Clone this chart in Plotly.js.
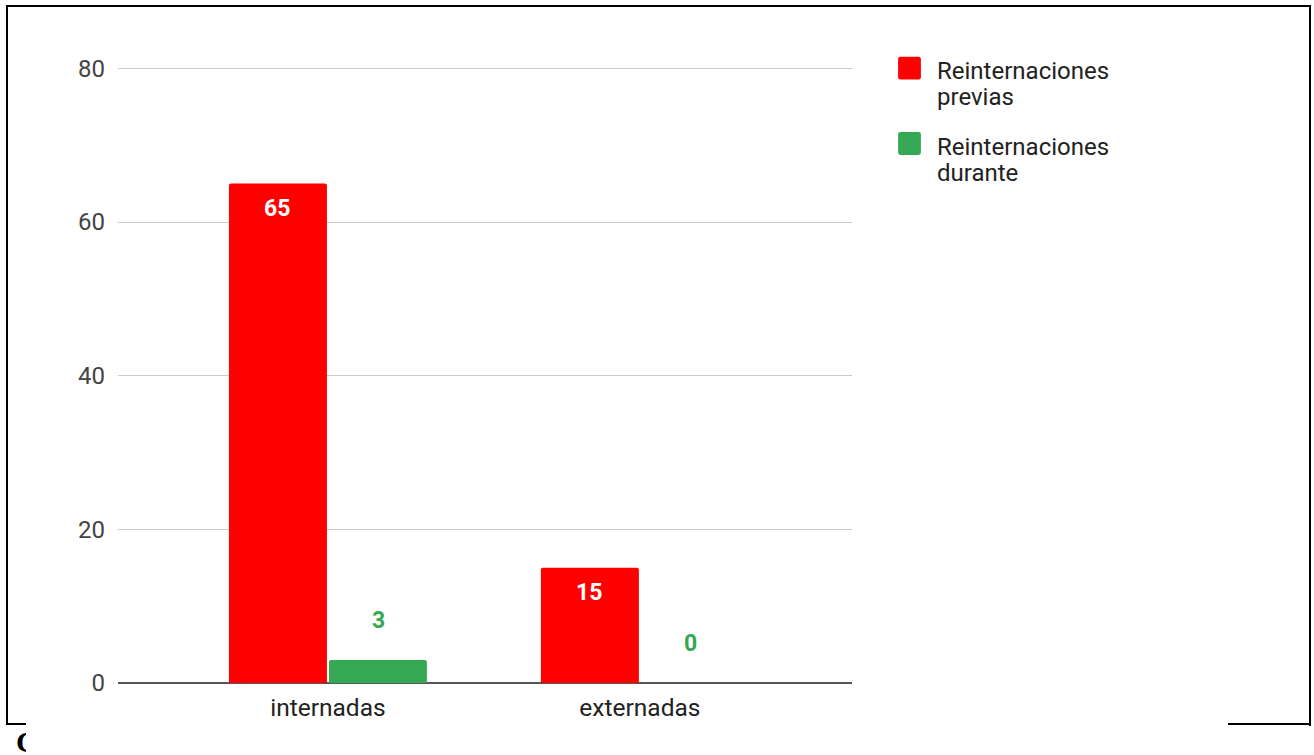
<!DOCTYPE html>
<html>
<head>
<meta charset="utf-8">
<script src="https://cdn.plot.ly/plotly-3.0.1.min.js"></script>
<style>
  html, body { margin: 0; padding: 0; width: 1314px; height: 755px; overflow: hidden; background: #fff; }
  #chart { position: absolute; left: 0; top: 0; width: 1314px; height: 755px; }
  .frame { position: absolute; background: #000; }
  #cover { position: absolute; left: 26px; top: 716px; width: 1202px; height: 39px; background: #fff; }
  #capC { position: absolute; left: 16px; top: 727px; font-family: "Liberation Serif", serif; font-weight: bold; font-size: 30px; line-height: 30px; color: #000; }
  .legend .legendpoints path { transform: translate(12.5px, -2px) scale(1.9); }
</style>
</head>
<body>
<div id="chart"></div>
<div id="capC">C</div>
<div id="cover"></div>
<div class="frame" style="left:6px; top:5px; width:1305px; height:2px;"></div>
<div class="frame" style="left:6px; top:5px; width:2px; height:720px;"></div>
<div class="frame" style="left:1309px; top:5px; width:2px; height:721px;"></div>
<div class="frame" style="left:6px; top:723px; width:20px; height:2px;"></div>
<div class="frame" style="left:1228px; top:723px; width:83px; height:2px;"></div>
<script>
const categories = ["internadas", "externadas"];
const previas = [65, 15];
const durante = [3, 0];
const seriesNames = ["Reinternaciones<br>previas", "Reinternaciones<br>durante"];
const yTicks = [0, 20, 40, 60, 80];

const RED = "#ff0000";
const GREEN = "#34a853";
const FONT = "Roboto, Arial, sans-serif";

const traces = [
  { type: "bar", x: categories, y: previas, name: seriesNames[0], legendgroup: "a",
    marker: { color: RED }, hoverinfo: "x+y" },
  { type: "bar", x: categories, y: durante, name: seriesNames[1], legendgroup: "b",
    marker: { color: GREEN }, hoverinfo: "x+y" }
];

const annotations = [];
categories.forEach((c, i) => {
  annotations.push({ x: c, y: previas[i], xref: "x", yref: "y", text: String(previas[i]),
    showarrow: false, xshift: -51, yshift: -25, yanchor: "middle",
    font: { family: FONT, size: 23, color: "#ffffff", weight: "bold" } });
  annotations.push({ x: c, y: durante[i], xref: "x", yref: "y", text: String(durante[i]),
    showarrow: false, xshift: 51, yshift: 39.5, yanchor: "middle",
    font: { family: FONT, size: 23, color: GREEN, weight: "bold" } });
});

const layout = {
  width: 1314, height: 755,
  margin: { l: 118, r: 462, t: 53, b: 72, pad: 0 },
  paper_bgcolor: "#ffffff", plot_bgcolor: "#ffffff",
  font: { family: FONT, size: 24, color: "#222222" },
  barmode: "group", bargap: 0.359, bargroupgap: 0.02, barcornerradius: 2,
  xaxis: { type: "category", range: [-0.673, 1.68], showgrid: false, zeroline: false,
    showline: false, ticks: "", ticklabelstandoff: 7,
    tickfont: { family: FONT, size: 24.5, color: "#222222" } },
  yaxis: { range: [0, 82], tickvals: yTicks, ticktext: yTicks.map(String), showgrid: true,
    gridcolor: "#cccccc", gridwidth: 1, zeroline: true, zerolinecolor: "#555555", zerolinewidth: 1.5,
    showline: false, ticks: "", ticklabelstandoff: 12,
    tickfont: { family: FONT, size: 24, color: "#444444" } },
  showlegend: true,
  legend: { xref: "container", yref: "container", x: 897 / 1314, y: 1 - 48 / 755,
    xanchor: "left", yanchor: "top", valign: "top", traceorder: "grouped", tracegroupgap: 10,
    font: { family: FONT, size: 24, color: "#222222" }, bgcolor: "rgba(0,0,0,0)" },
  annotations: annotations,
  hovermode: false
};

Plotly.newPlot("chart", traces, layout, { displayModeBar: false, staticPlot: true }).then(function (gd) {
  // tighten the legend's line spacing to match the reference
  gd.querySelectorAll(".legend text.legendtext").forEach(function (t) {
    var lines = t.querySelectorAll("tspan.line");
    lines.forEach(function (ln, i) { if (i > 0) ln.setAttribute("dy", (26 * i) + "px"); });
  });
  // legend swatches: nearly square corners like the reference
  gd.querySelectorAll(".legend .legendpoints path").forEach(function (p) {
    p.setAttribute("d", "M6,4.8A1.2,1.2 0 0 1 4.8,6H-4.8A1.2,1.2 0 0 1 -6,4.8V-4.8A1.2,1.2 0 0 1 -4.8,-6H4.8A1.2,1.2 0 0 1 6,-4.8Z");
  });
});
</script>
</body>
</html>
